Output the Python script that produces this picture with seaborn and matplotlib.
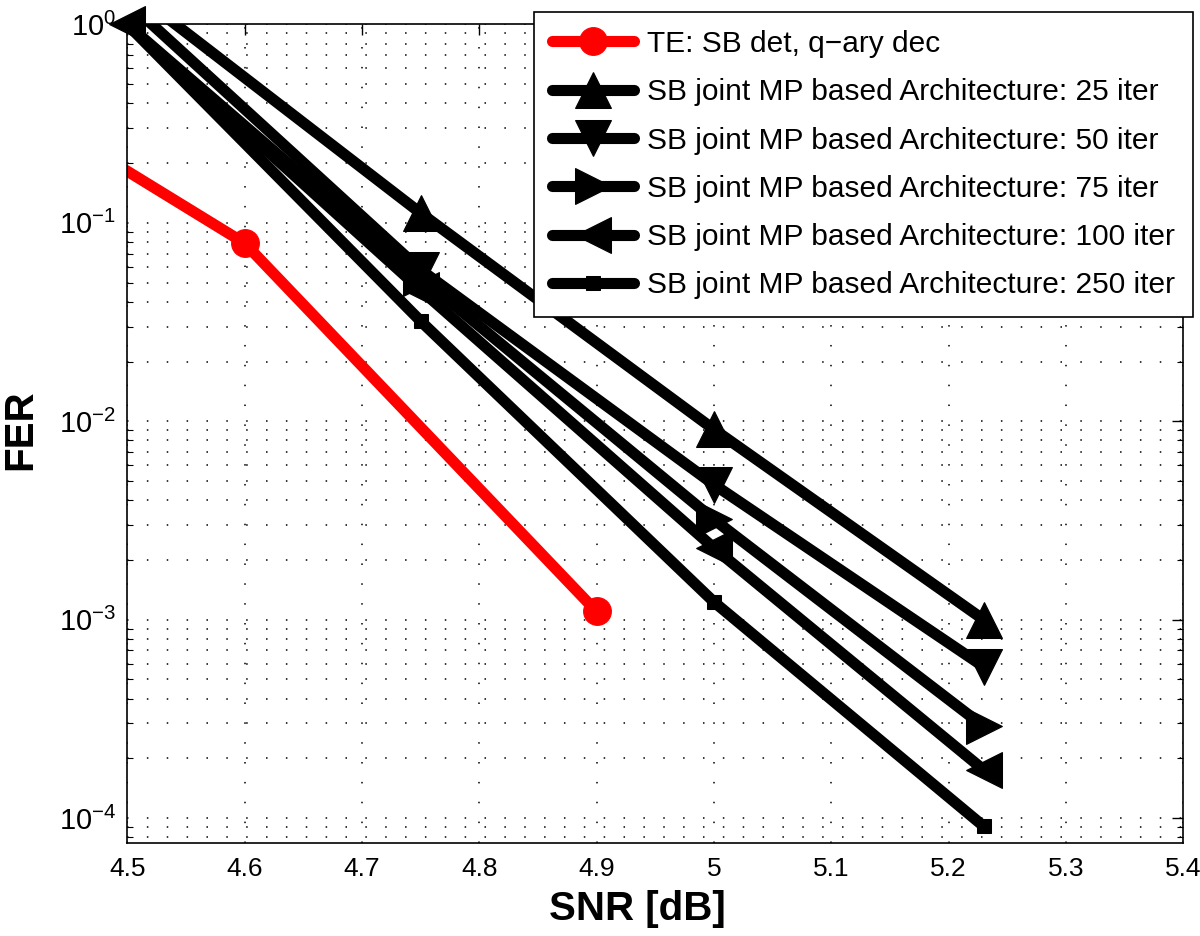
import numpy as np
import pandas as pd
import matplotlib
matplotlib.use("Agg")
import matplotlib.pyplot as plt
import seaborn as sns

# values
snr_te = [4.4, 4.6, 4.9]
fer_te = [0.42, 0.079, 1.1e-3]

snr_sb = [4.5, 4.75, 5.0, 5.23]
fer_25 = [1.54, 0.112, 9.1e-3, 1.0e-3]
fer_50 = [1.30, 0.058, 4.8e-3, 5.8e-4]
fer_75 = [1.0, 0.053, 3.2e-3, 2.9e-4]
fer_100 = [1.0, 0.046, 2.3e-3, 1.75e-4]
fer_250 = [1.0, 0.032, 1.23e-3, 9.1e-5]

labels = [
    "TE: SB det, q\u2212ary dec",
    "SB joint MP based Architecture: 25 iter",
    "SB joint MP based Architecture: 50 iter",
    "SB joint MP based Architecture: 75 iter",
    "SB joint MP based Architecture: 100 iter",
    "SB joint MP based Architecture: 250 iter",
]
x_ticks = [4.5, 4.6, 4.7, 4.8, 4.9, 5.0, 5.1, 5.2, 5.3, 5.4]
x_tick_labels = ["4.5", "4.6", "4.7", "4.8", "4.9", "5", "5.1", "5.2", "5.3", "5.4"]

sns.set_style("white")
plt.rcParams["font.family"] = ["Liberation Sans", "DejaVu Sans"]
plt.rcParams["mathtext.fontset"] = "custom"
plt.rcParams["mathtext.rm"] = "Liberation Sans"
plt.rcParams["mathtext.it"] = "Liberation Sans"
for key in ["text.color", "axes.labelcolor", "xtick.color", "ytick.color"]:
    plt.rcParams[key] = "black"

fig = plt.figure(figsize=(12, 9.36), dpi=100)
ax = fig.add_axes([0.106, 0.0994, 0.880, 0.8746])

series = [
    (snr_te, fer_te, "red", "o", 20),
    (snr_sb, fer_25, "black", "^", 26),
    (snr_sb, fer_50, "black", "v", 26),
    (snr_sb, fer_75, "black", ">", 26),
    (snr_sb, fer_100, "black", "<", 26),
    (snr_sb, fer_250, "black", "s", 10),
]
for (xs, ys, col, mk, ms), lab in zip(series, labels):
    df = pd.DataFrame({"SNR": xs, "FER": ys})
    sns.lineplot(data=df, x="SNR", y="FER", ax=ax, color=col, marker=mk,
                 markersize=ms, linewidth=8, markeredgecolor=col,
                 markerfacecolor=col, label=lab)

# the 100-iter marker at the corner sticks out of the frame in the reference
ax.get_lines()[4].set_clip_on(False)

ax.set_yscale("log")
ax.set_xlim(4.5, 5.4)
ax.set_ylim(7.5e-5, 1.0)
ax.set_xticks(x_ticks)
ax.set_xticklabels(x_tick_labels)
ax.set_yticks([1e-4, 1e-3, 1e-2, 1e-1, 1e0])
ax.set_yticklabels(["$10^{-4}$", "$10^{-3}$", "$10^{-2}$", "$10^{-1}$", "$10^{0}$"])
ax.tick_params(axis="both", which="major", direction="in", length=8, width=1,
               labelsize=19, top=True, right=True, pad=10, colors="black")
ax.tick_params(axis="y", which="major", labelsize=21, pad=8)
ax.tick_params(axis="y", which="minor", direction="in", length=4, width=0.8,
               left=True, right=True)

ax.grid(True, which="major", axis="x", color="black", linestyle=(0, (1, 12)), linewidth=1.1)
ax.grid(True, which="both", axis="y", color="black", linestyle=(0, (1, 12)), linewidth=1.1)
for s in ax.spines.values():
    s.set_color("black")
    s.set_linewidth(1.2)

ax.set_xlabel("SNR [dB]", fontsize=29, fontweight="bold", color="black")
ax.set_ylabel("FER", fontsize=29, fontweight="bold", color="black")
ax.xaxis.set_label_coords(0.483, -0.058)
ax.yaxis.set_label_coords(-0.083, 0.505)

leg = ax.legend(loc="upper right", bbox_to_anchor=(1193 / 1200, 1 - 12 / 936),
                bbox_transform=fig.transFigure, fontsize=21.5, frameon=True,
                fancybox=False, edgecolor="black", framealpha=1,
                handlelength=2.75, labelspacing=0.68, borderpad=0.6,
                handletextpad=0.45, borderaxespad=0)
leg.get_frame().set_linewidth(1.2)
for t in leg.get_texts():
    t.set_color("black")
leg.set_zorder(10)

fig.savefig("out.png", dpi=100)
